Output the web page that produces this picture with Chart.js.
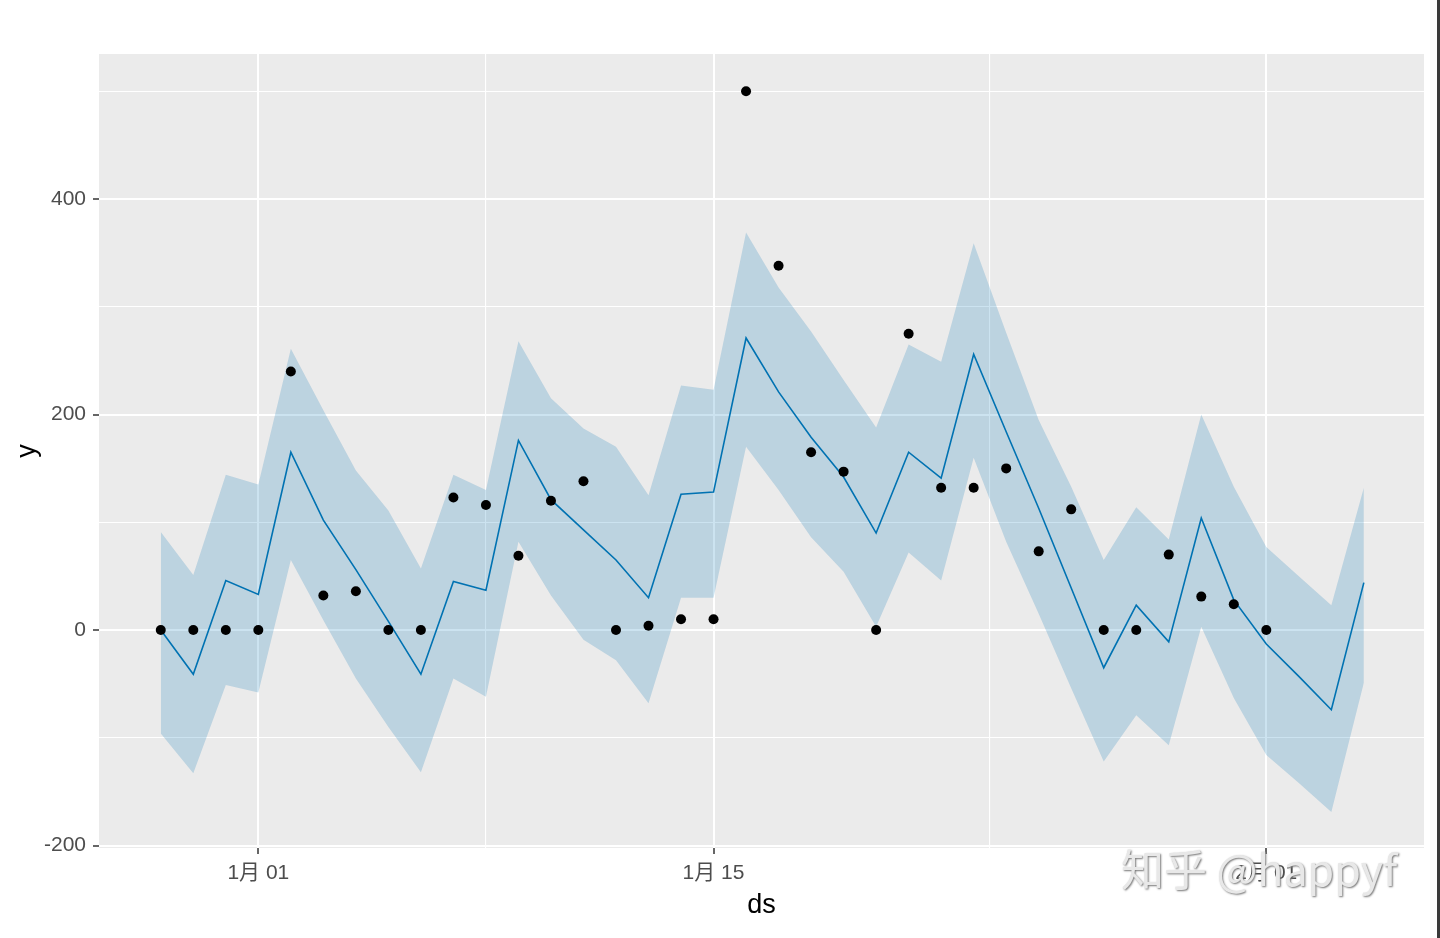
<!DOCTYPE html>
<html>
<head>
<meta charset="utf-8">
<script src="https://cdn.jsdelivr.net/npm/chart.js@4/dist/chart.umd.min.js"></script>
<style>
html, body { margin: 0; padding: 0; background: #fff; }
#wrap { position: relative; width: 1440px; height: 938px; }
#mark { position: absolute; left: 1121px; top: 836px; font: 43px "Noto Sans CJK SC", sans-serif; color: #e8e8e8; text-shadow: 1px 1px 2px #777; white-space: nowrap; }
#edge { position: absolute; left: 1437px; top: 0; width: 3px; height: 938px; background: #3a3a3a; }
</style>
</head>
<body>
<div id="wrap">
  <canvas id="myChart" width="1440" height="938"></canvas>
  <div id="mark">知乎 @happyf</div>
  <div id="edge"></div>
</div>
<script>
// dátumok (ds) - előrejelzés teljes hossza
const dates = [
  '2019-12-29', '2019-12-30', '2019-12-31', '2020-01-01', '2020-01-02', '2020-01-03', '2020-01-04',
  '2020-01-05', '2020-01-06', '2020-01-07', '2020-01-08', '2020-01-09', '2020-01-10', '2020-01-11',
  '2020-01-12', '2020-01-13', '2020-01-14', '2020-01-15', '2020-01-16', '2020-01-17', '2020-01-18',
  '2020-01-19', '2020-01-20', '2020-01-21', '2020-01-22', '2020-01-23', '2020-01-24', '2020-01-25',
  '2020-01-26', '2020-01-27', '2020-01-28', '2020-01-29', '2020-01-30', '2020-01-31', '2020-02-01',
  '2020-02-02', '2020-02-03', '2020-02-04'
];

// mért értékek (y), 12-29 .. 02-01
const actual = [0, 0, 0, 0, 240, 32, 36, 0, 0, 123, 116, 69, 120, 138, 0, 4, 10, 10, 500, 338,
  165, 147, 0, 275, 132, 132, 150, 73, 112, 0, 0, 70, 31, 24, 0];

// előrejelzés és sáv
const yhat = [0, -41, 46, 33, 165, 102, 56, 8, -41, 45, 37, 176, 121, 93, 65, 30, 126, 128, 271, 221,
  179, 142, 90, 165, 141, 256, 184, 113, 39, -35, 23, -11, 104, 28, -13, -43, -74, 44];
const yhatUpper = [91, 51, 144, 135, 261, 204, 148, 111, 57, 144, 130, 268, 215, 187, 170, 125, 227, 223, 369, 318,
  277, 232, 188, 265, 249, 359, 276, 195, 133, 65, 114, 84, 200, 133, 77, 50, 23, 132];
const yhatLower = [-96, -133, -51, -58, 65, 9, -45, -90, -132, -45, -62, 82, 32, -9, -28, -68, 30, 30, 170, 130,
  86, 54, 3, 72, 46, 160, 82, 15, -54, -122, -79, -107, 3, -63, -116, -142, -169, -49];

// tengely feliratok
const xTickDates = ['2020-01-01', '2020-01-15', '2020-02-01'];
const xTickLabels = ['1月 01', '1月 15', '2月 01'];
const yTicks = [-200, 0, 200, 400];
const yMinor = [-100, 100, 300, 500];

const origin = Date.parse('2020-01-01');
const dayNum = d => (Date.parse(d) - origin) / 86400000;

const xMajor = xTickDates.map(dayNum);
const xMinor = [];
for (let i = 0; i < xMajor.length - 1; i++) xMinor.push((xMajor[i] + xMajor[i + 1]) / 2);

const pts = vals => vals.map((v, i) => ({ x: dayNum(dates[i]), y: v }));

// szürke panel háttér
const panelBg = {
  id: 'panelBg',
  beforeDraw(chart) {
    const { ctx, chartArea: a } = chart;
    ctx.save();
    ctx.fillStyle = '#EBEBEB';
    ctx.fillRect(a.left, a.top, a.right - a.left, a.bottom - a.top);
    ctx.restore();
  }
};

Chart.defaults.font.family = '"Liberation Sans", Arial, "Noto Sans CJK SC", sans-serif';

const ctx = document.getElementById('myChart').getContext('2d');
const chart = new Chart(ctx, {
  type: 'line',
  data: {
    datasets: [
      { label: 'y', data: pts(actual), showLine: false, pointRadius: 5, pointBackgroundColor: '#000', pointBorderWidth: 0 },
      { label: 'yhat', data: pts(yhat), borderColor: '#0072B2', borderWidth: 1.6, pointRadius: 0, fill: false, tension: 0 },
      { label: 'upper', data: pts(yhatUpper), borderWidth: 0, pointRadius: 0, fill: '+1', backgroundColor: 'rgba(0,114,178,0.2)' },
      { label: 'lower', data: pts(yhatLower), borderWidth: 0, pointRadius: 0, fill: false }
    ]
  },
  options: {
    responsive: false,
    animation: false,
    layout: { padding: { top: 54, right: 16, left: 0, bottom: 0 } },
    plugins: { legend: { display: false }, tooltip: { enabled: false } },
    scales: {
      x: {
        type: 'linear',
        min: -4.9,
        max: 35.85,
        afterBuildTicks: s => { s.ticks = [...xMajor, ...xMinor].sort((a, b) => a - b).map(v => ({ value: v })); },
        afterFit: s => { s.height = 90; },
        border: { display: false },
        grid: {
          color: '#fff',
          lineWidth: c => (c.tick && xMajor.includes(c.tick.value) ? 2 : 1.1),
          tickColor: c => (c.tick && xMajor.includes(c.tick.value) ? '#333' : 'rgba(0,0,0,0)'),
          tickLength: 6,
          tickWidth: 1.5
        },
        ticks: {
          autoSkip: false,
          maxRotation: 0,
          padding: 7,
          color: '#4D4D4D',
          font: { size: 21 },
          callback: v => { const i = xMajor.indexOf(v); return i >= 0 ? xTickLabels[i] : ''; }
        },
        title: { display: true, text: 'ds', color: '#000', font: { size: 27 }, padding: { top: 0, bottom: 16 } }
      },
      y: {
        min: -202.3,
        max: 534.6,
        afterBuildTicks: s => { s.ticks = [...yTicks, ...yMinor].sort((a, b) => a - b).map(v => ({ value: v })); },
        afterFit: s => { s.width = 99; },
        border: { display: false },
        grid: {
          color: '#fff',
          lineWidth: c => (c.tick && yTicks.includes(c.tick.value) ? 2 : 1.1),
          tickColor: c => (c.tick && yTicks.includes(c.tick.value) ? '#333' : 'rgba(0,0,0,0)'),
          tickLength: 6,
          tickWidth: 1.5
        },
        ticks: {
          padding: 7,
          color: '#4D4D4D',
          font: { size: 21 },
          callback: v => (yTicks.includes(v) ? String(v) : '')
        },
        title: { display: true, text: 'y', color: '#000', font: { size: 27 }, padding: { top: 11, bottom: 0 } }
      }
    }
  },
  plugins: [panelBg]
});
</script>
</body>
</html>
